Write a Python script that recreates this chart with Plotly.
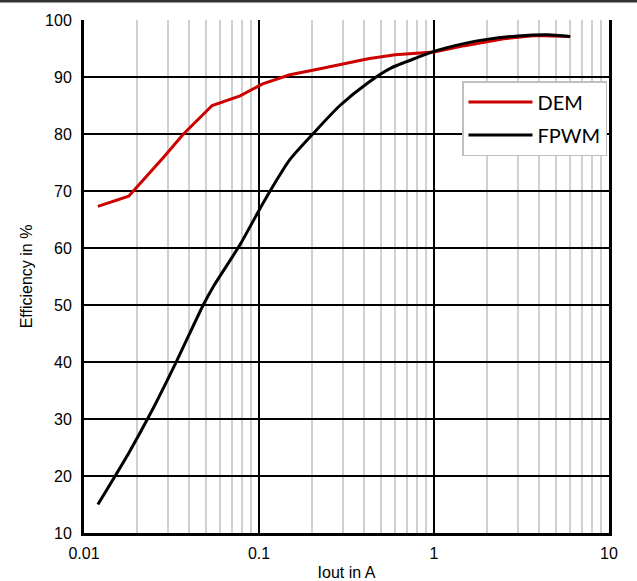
import plotly.graph_objects as go

# Data
dem_iout = [0.012, 0.018, 0.029, 0.037, 0.054, 0.078, 0.105, 0.15, 0.22, 0.42, 0.6, 1.0, 1.5, 2.5, 3.8, 6.0]
dem_eff = [67.3, 69.1, 76.2, 80.0, 85.0, 86.7, 88.8, 90.4, 91.4, 93.2, 93.9, 94.4, 95.5, 96.7, 97.3, 97.1]

fpwm_iout = [0.012, 0.018, 0.024, 0.034, 0.048, 0.055, 0.078, 0.106, 0.15, 0.21, 0.29, 0.42, 0.57, 0.8, 1.0, 1.5, 2.0, 3.0, 4.5, 6.0]
fpwm_eff = [15.0, 24.0, 31.0, 40.3, 50.0, 53.3, 60.6, 68.0, 75.5, 80.5, 85.0, 89.0, 91.6, 93.4, 94.5, 95.9, 96.6, 97.2, 97.4, 97.1]

x_tickvals = [0.01, 0.1, 1, 10]
x_ticktext = ["0.01", "0.1", "1", "10"]
y_tickvals = [10, 20, 30, 40, 50, 60, 70, 80, 90, 100]

fig = go.Figure()
fig.add_trace(go.Scatter(x=dem_iout, y=dem_eff, mode="lines", name="DEM", legendgroup="a",
                         line=dict(color="#CC0000", width=3)))
fig.add_trace(go.Scatter(x=fpwm_iout, y=fpwm_eff, mode="lines", name="FPWM", legendgroup="b",
                         line=dict(color="#000000", width=3, shape="spline", smoothing=0.6)))

axis_font = dict(family="Liberation Sans, Arial, sans-serif", size=16, color="#000")

fig.update_layout(
    width=637, height=581,
    margin=dict(l=84, r=28, t=20, b=48, autoexpand=False),
    paper_bgcolor="white", plot_bgcolor="white",
    font=axis_font,
    showlegend=True,
    legend=dict(x=0.72, y=0.881, xanchor="left", yanchor="top",
                bgcolor="white", bordercolor="#bfbfbf", borderwidth=1.5,
                font=dict(family="Lato, Open Sans, sans-serif", size=20, color="#000"),
                itemwidth=64, tracegroupgap=4),
    xaxis=dict(type="log", range=[-2, 1], tickvals=x_tickvals, ticktext=x_ticktext,
               showgrid=True, gridcolor="#000", gridwidth=2,
               minor=dict(dtick="D1", showgrid=True, gridcolor="#d0d0d0", gridwidth=1.5, ticks=""),
               showline=True, linecolor="#000", linewidth=3,
               ticks="", ticklabelstandoff=4, automargin=False,
               title=dict(text="Iout in A", font=axis_font, standoff=8),
               zeroline=False),
    yaxis=dict(range=[10, 100], tickvals=y_tickvals,
               showgrid=True, gridcolor="#000", gridwidth=1.5,
               showline=True, linecolor="#000", linewidth=3, mirror=True,
               ticks="", ticklabelstandoff=6, automargin=False,
               title=dict(text="Efficiency in %", font=axis_font, standoff=9),
               zeroline=False),
    shapes=[dict(type="line", xref="paper", yref="paper",
                 x0=-0.2, x1=1.1, y0=1.0365, y1=1.0365,
                 line=dict(color="#333", width=2.6))],
)

fig.write_html("out.html", config={"displayModeBar": False},
               post_script="document.body.style.margin='0';")
